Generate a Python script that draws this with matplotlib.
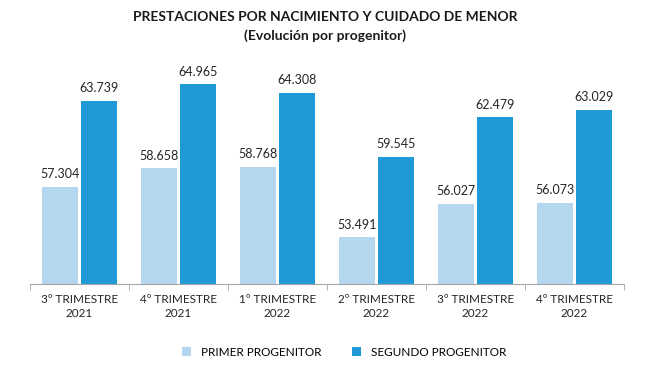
import matplotlib.pyplot as plt
import numpy as np

categories = ['3º TRIMESTRE\n2021', '4º TRIMESTRE\n2021', '1º TRIMESTRE\n2022',
              '2º TRIMESTRE\n2022', '3º TRIMESTRE\n2022', '4º TRIMESTRE\n2022']
primer = [57.304, 58.658, 58.768, 53.491, 56.027, 56.073]
segundo = [63.739, 64.965, 64.308, 59.545, 62.479, 63.029]
series_names = ['PRIMER PROGENITOR', 'SEGUNDO PROGENITOR']

light = '#B4D6EF'
dark = '#1F9AD6'

plt.rcParams['font.family'] = ['Lato', 'DejaVu Sans']

fig = plt.figure(figsize=(6.5, 3.68), dpi=100)
ax = fig.add_axes([0.046, 0.228, 0.914, 0.617])

x = np.arange(len(categories))
w = 0.36
off = 0.195
b1 = ax.bar(x - off, primer, w, bottom=0, color=light, label=series_names[0])
b2 = ax.bar(x + off, segundo, w, bottom=0, color=dark, label=series_names[1])

for bars, vals in ((b1, primer), (b2, segundo)):
    for b, v in zip(bars, vals):
        ax.text(b.get_x() + b.get_width() / 2, v + 0.5, f'{v:.3f}',
                ha='center', va='bottom', fontsize=9, color='#262626')

ax.set_ylim(50, 67)
ax.set_xlim(-0.5, len(categories) - 0.5)
ax.set_yticks([])
for s in ['top', 'right', 'left']:
    ax.spines[s].set_visible(False)
ax.spines['bottom'].set_color('#A6A6A6')

ax.set_xticks(x)
ax.set_xticklabels(categories, fontsize=8.5, color='#262626', linespacing=1.4)
ax.tick_params(axis='x', which='major', length=0, pad=7)
ax.set_xticks(np.arange(-0.5, len(categories)), minor=True)
ax.tick_params(axis='x', which='minor', length=4, color='#A6A6A6')

fig.text(0.5, 0.955, 'PRESTACIONES POR NACIMIENTO Y CUIDADO DE MENOR',
         ha='center', va='center', fontsize=10, fontweight='bold', color='#1a1a1a')
fig.text(0.5, 0.903, '(Evolución por progenitor)',
         ha='center', va='center', fontsize=10, fontweight='bold', color='#1a1a1a')

fig.legend(handles=[b1, b2], loc='center', bbox_to_anchor=(0.53, 0.043), ncol=2,
           frameon=False, fontsize=8.5, handlelength=0.7, handleheight=0.7,
           columnspacing=2.6, handletextpad=0.9)

fig.savefig('out.png', dpi=100)
